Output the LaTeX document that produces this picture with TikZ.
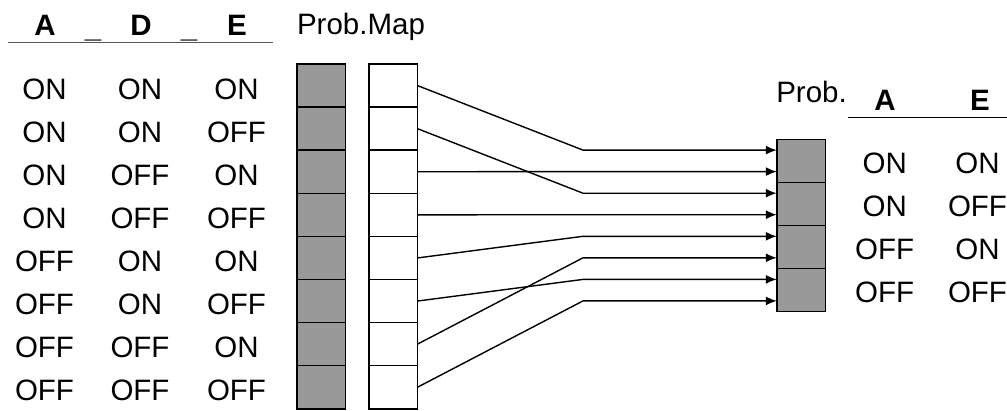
\documentclass[tikz,border=0pt]{standalone}
\usepackage{fontspec}
\setmainfont{Liberation Sans}
\usepackage{tikz}
\usepackage{xcolor}
\usetikzlibrary{arrows.meta,positioning}
\definecolor{cellG}{HTML}{999999}

\begin{document}
\begin{tikzpicture}[x=1pt,y=-1pt,>={Latex[length=11pt,width=9pt]},
    cell/.style={draw,line width=1.5pt,minimum width=48.5pt,minimum height=43.1pt,
                 inner sep=0pt,outer sep=0pt},
    val/.style={anchor=base,inner sep=0pt,font=\fontsize{29.5}{32}\selectfont},
    hdr/.style={val,font=\fontsize{29.5}{32}\selectfont\bfseries},
    link/.style={->,line width=1.4pt}]
    \useasboundingbox (0,0) rectangle (1007,410);
    % left table
    \node[hdr] (hA) at (45,35) {A};
    \node[hdr] (u1) at (93,37) {\_};
    \node[hdr] (hD) at (141,35) {D};
    \node[hdr] (u2) at (189,37) {\_};
    \node[hdr] (hE) at (237,35) {E};
    \draw[black!65,line width=0.9pt] (8,42.7) -- (273,42.7);
    \foreach \a/\d/\e [count=\i] in {ON/ON/ON,ON/ON/OFF,ON/OFF/ON,ON/OFF/OFF,
                                     OFF/ON/ON,OFF/ON/OFF,OFF/OFF/ON,OFF/OFF/OFF} {
        \node[val] (a\i) at (44.5,55.9+43.1*\i) {\a};
        \node[val] (d\i) at (140,55.9+43.1*\i) {\d};
        \node[val] (e\i) at (236.5,55.9+43.1*\i) {\e};
        \node[cell,fill=cellG] (g\i) at (321.3,42.45+43.1*\i) {};
        \node[cell,fill=white] (w\i) at (393.2,42.45+43.1*\i) {};
    }
    \node[val] (pmap) at (361,34.3) {Prob.Map};
    % right table
    \node[val] (prob) at (811.5,102.3) {Prob.};
    \node[hdr] (rA) at (885,110) {A};
    \node[hdr] (rE) at (980,110) {E};
    \draw[line width=1.5pt] (848,117.7) -- (1007,117.7);
    \foreach \a/\e [count=\j] in {ON/ON,ON/OFF,OFF/ON,OFF/OFF} {
        \node[cell,fill=cellG] (r\j) at (801,117.75+43.1*\j) {};
        \coordinate (r\j-up) at ([yshift=10.75pt]r\j.west);
        \coordinate (r\j-dn) at ([yshift=-10.75pt]r\j.west);
        \node[val] (ra\j) at (884.7,130.2+43.1*\j) {\a};
        \node[val] (re\j) at (977.5,130.2+43.1*\j) {\e};
    }
    % mapping
    \coordinate (bend) at (583,0);
    \foreach \s/\t in {1/r1-up,2/r2-up,3/r1-dn,4/r2-dn,5/r3-up,6/r4-up,7/r3-dn,8/r4-dn}
        \draw[link] (w\s.east) -- (bend |- \t) -- (\t);
\end{tikzpicture}
\end{document}
